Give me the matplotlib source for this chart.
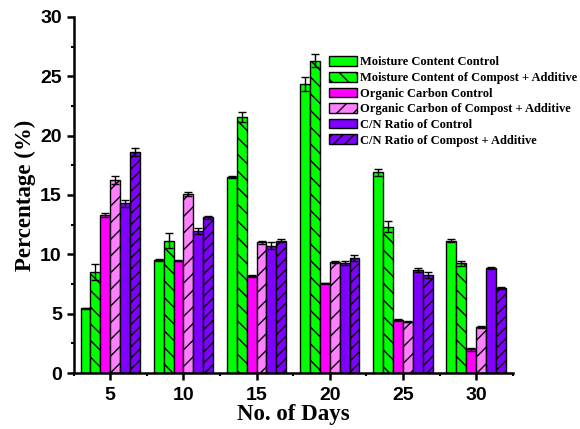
import numpy as np
import matplotlib.pyplot as plt

# sampling days
days = [5, 10, 15, 20, 25, 30]

# moisture content (%)
mc_control = [5.45, 9.52, 16.54, 24.32, 16.9, 11.15]
mc_control_err = [0.05, 0.1, 0.1, 0.59, 0.3, 0.14]
mc_additive = [8.48, 11.15, 21.6, 26.31, 12.33, 9.24]
mc_additive_err = [0.68, 0.62, 0.42, 0.56, 0.45, 0.22]

# organic carbon (%)
oc_control = [13.31, 9.46, 8.17, 7.55, 4.43, 2.0]
oc_control_err = [0.15, 0.05, 0.05, 0.05, 0.08, 0.14]
oc_additive = [16.26, 15.05, 11.0, 9.35, 4.33, 3.88]
oc_additive_err = [0.37, 0.17, 0.14, 0.1, 0.05, 0.05]

# C/N ratio
cn_control = [14.3, 11.96, 10.73, 9.27, 8.68, 8.85]
cn_control_err = [0.28, 0.22, 0.29, 0.19, 0.17, 0.05]
cn_additive = [18.64, 13.11, 11.15, 9.71, 8.26, 7.16]
cn_additive_err = [0.34, 0.13, 0.14, 0.25, 0.22, 0.05]

labels = ['Moisture Content Control',
          'Moisture Content of Compost + Additive',
          'Organic Carbon Control',
          'Organic Carbon of Compost + Additive',
          'C/N Ratio of Control',
          'C/N Ratio of Compost + Additive']

series = [(mc_control, mc_control_err, '#00ff00', None),
          (mc_additive, mc_additive_err, '#00ff00', '\\\\'),
          (oc_control, oc_control_err, '#ff00ff', None),
          (oc_additive, oc_additive_err, '#ff80ff', '//'),
          (cn_control, cn_control_err, '#7f00ff', None),
          (cn_additive, cn_additive_err, '#7f00ff', '///')]

plt.rcParams['hatch.linewidth'] = 1.0

fig = plt.figure(figsize=(5.8, 4.29), dpi=100)
ax = fig.add_axes([0.127, 0.1305, 0.757, 0.83])

width = 0.675
x = np.array(days, dtype=float)
for i, (vals, errs, color, hatch) in enumerate(series):
    ax.bar(x + (i - 2.5) * width, vals, width, yerr=errs, color=color,
           edgecolor='black', linewidth=1.0, hatch=hatch, label=labels[i],
           error_kw=dict(ecolor='black', elinewidth=1.0, capsize=3, capthick=1.0))

ax.set_xlim(2.5, 32.5)
ax.set_ylim(0, 30)
ax.set_xticks(days)
ax.set_xticks(np.arange(2.5, 33, 5), minor=True)
ax.set_yticks(np.arange(0, 31, 5))
ax.set_yticks(np.arange(2.5, 30, 5), minor=True)

for s in ['top', 'right']:
    ax.spines[s].set_visible(False)
for s in ['left', 'bottom']:
    ax.spines[s].set_linewidth(1.8)

ax.tick_params(which='major', direction='out', length=5, width=1.8)
ax.tick_params(which='minor', direction='out', length=2.5, width=1.5)
ax.tick_params(axis='x', which='major', pad=5)
ax.tick_params(axis='y', which='major', pad=3.5)
for lab in ax.get_xticklabels() + ax.get_yticklabels():
    lab.set_fontfamily('Liberation Sans')
    lab.set_fontweight('bold')
    lab.set_fontsize(14)

ax.set_xlabel('No. of Days', fontfamily='Liberation Serif', fontweight='bold',
              fontsize=16.5, labelpad=0)
ax.set_ylabel('Percentage (%)', fontfamily='Liberation Serif', fontweight='bold',
              fontsize=16.5, labelpad=3)

ax.legend(loc='upper left', bbox_to_anchor=(0.562, 0.914), frameon=False,
          prop={'family': 'Liberation Serif', 'weight': 'bold', 'size': 9},
          handlelength=2.2, handleheight=0.8, handletextpad=0.3,
          labelspacing=0.28, borderpad=0.2)

fig.savefig('out.png', dpi=100)
